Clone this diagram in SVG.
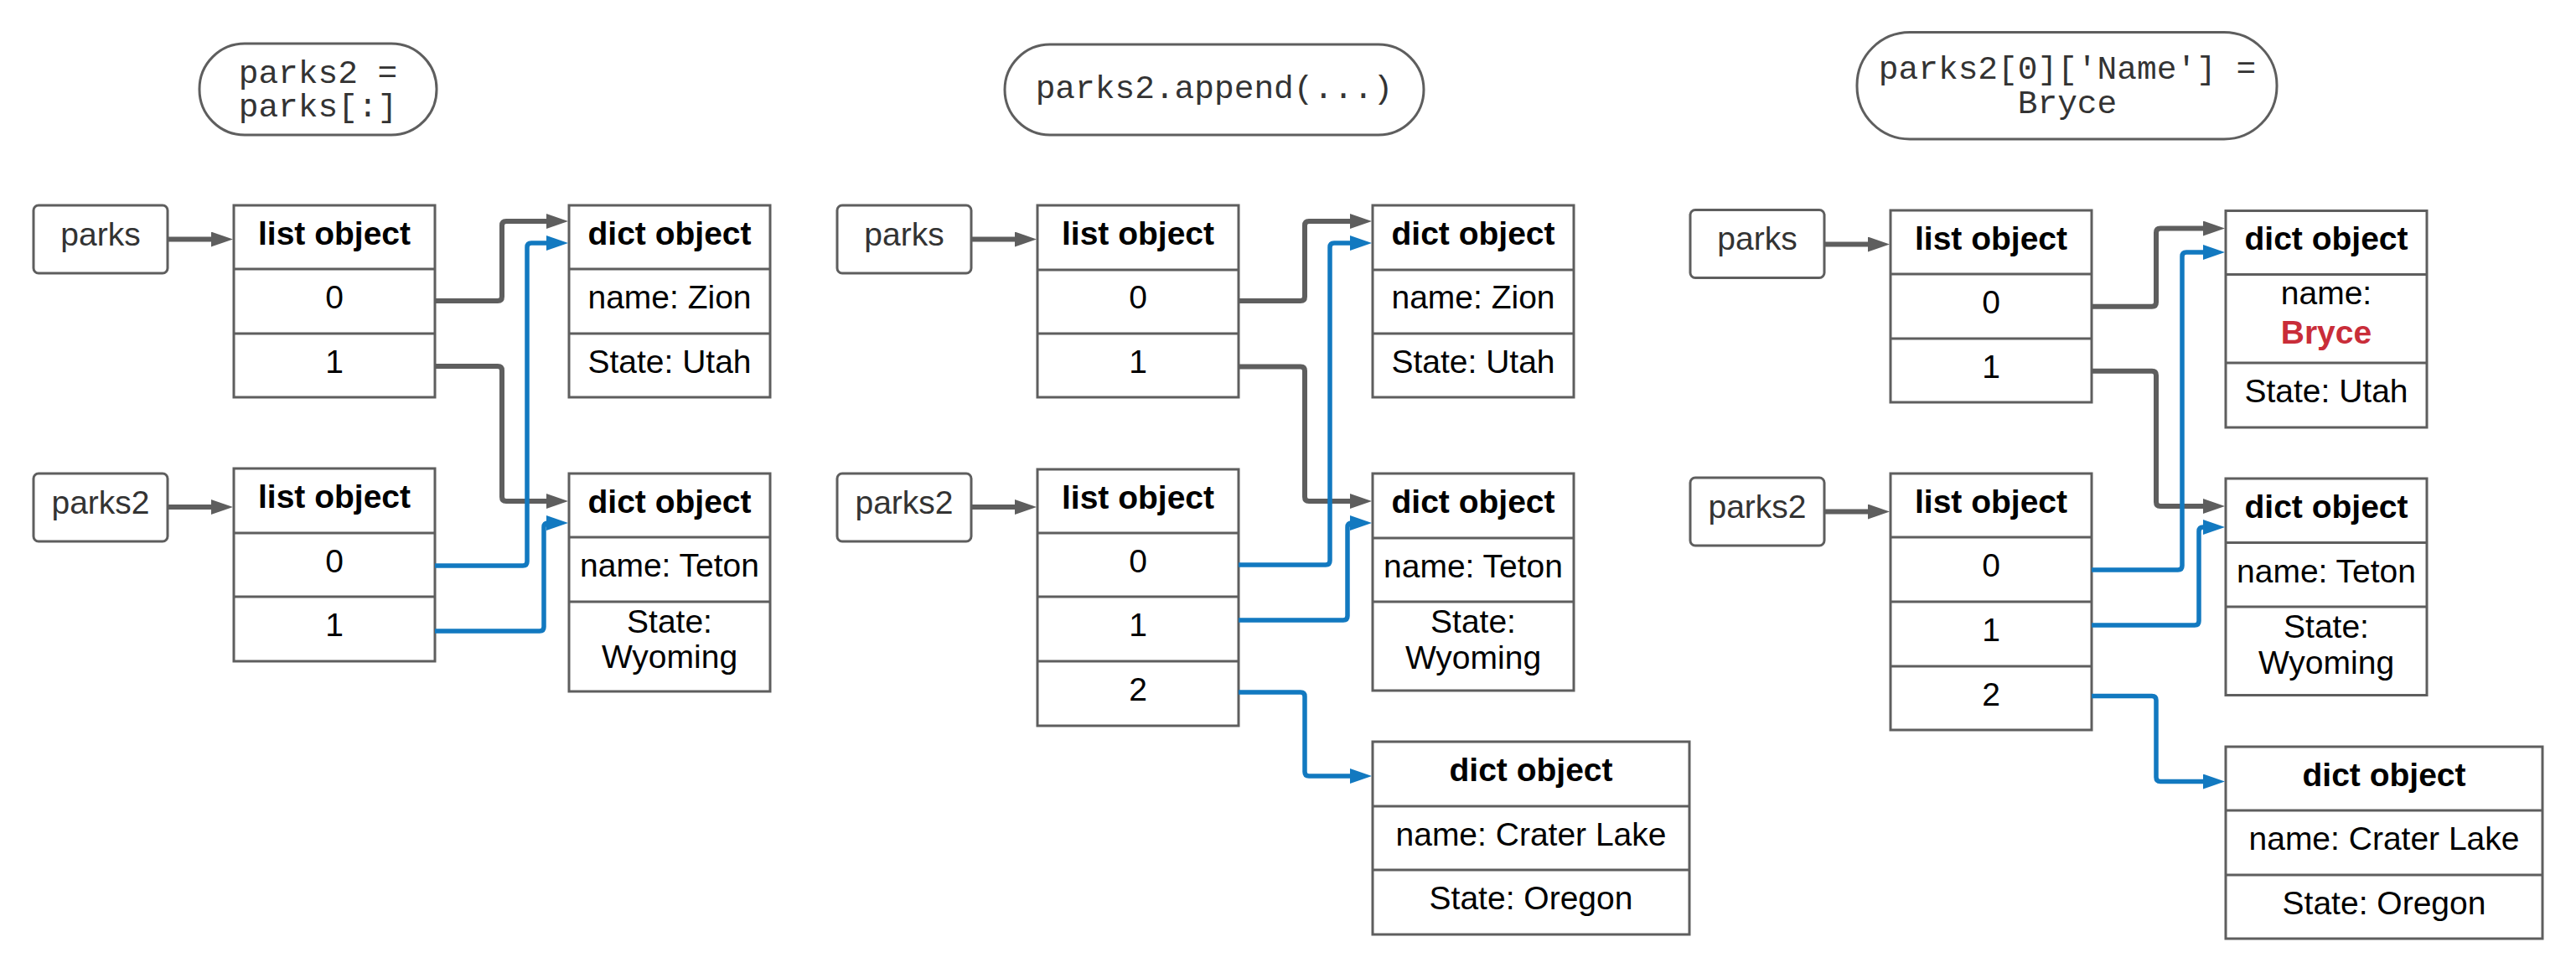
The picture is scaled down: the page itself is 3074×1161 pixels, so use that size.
<svg xmlns="http://www.w3.org/2000/svg" width="3074" height="1161" viewBox="0 0 3074 1161">
<style>
.box{fill:#fff;stroke:#5e5e5e;stroke-width:3}
.div{stroke:#5e5e5e;stroke-width:3}
.var{fill:#fff;stroke:#5e5e5e;stroke-width:3}
.pill{fill:#fff;stroke:#5e5e5e;stroke-width:3}
.t{font-family:"Liberation Sans",Arial,sans-serif;font-size:39px;fill:#000;text-anchor:middle}
.b{font-weight:bold}
.vt{fill:#333}
.red{fill:#c92d39;font-weight:bold}
.code{font-family:"Liberation Mono","Courier New",monospace;font-size:39.5px;fill:#333;text-anchor:middle}
.g{fill:none;stroke:#5e5e5e;stroke-width:6;marker-end:url(#ag)}
.bl{fill:none;stroke:#1279c0;stroke-width:5.5;marker-end:url(#ab)}
</style>
<defs>
<marker id="ag" viewBox="0 0 26 18" markerWidth="26" markerHeight="18" refX="2" refY="9" orient="auto" markerUnits="userSpaceOnUse"><path d="M0,0 L26,9 L0,18 Z" fill="#5e5e5e"/></marker>
<marker id="ab" viewBox="0 0 26 18" markerWidth="26" markerHeight="18" refX="2" refY="9" orient="auto" markerUnits="userSpaceOnUse"><path d="M0,0 L26,9 L0,18 Z" fill="#1279c0"/></marker>
</defs>
<rect width="3074" height="1161" fill="#fff"/>

<!-- Panel 1 -->
<g id="p1-code"><rect class="pill" x="238" y="52" width="283" height="109" rx="54"/><text class="code" x="379.5" y="99">parks2 =</text><text class="code" x="379.5" y="139">parks[:]</text></g>
<g id="p1-parks"><rect class="var" x="40" y="245" width="160" height="81" rx="6"/><text class="t vt" x="120" y="293">parks</text></g>
<g id="p1-parks2"><rect class="var" x="40" y="565" width="160" height="81" rx="6"/><text class="t vt" x="120" y="612.5">parks2</text></g>
<g id="p1-list1"><rect class="box" x="279" y="245" width="240" height="229"/><line class="div" x1="279" y1="321" x2="519" y2="321"/><line class="div" x1="279" y1="398" x2="519" y2="398"/>
<text class="t b" x="399" y="291.5">list object</text><text class="t" x="399" y="368">0</text><text class="t" x="399" y="444.5">1</text></g>
<g id="p1-dict1"><rect class="box" x="679" y="245" width="240" height="229"/><line class="div" x1="679" y1="321" x2="919" y2="321"/><line class="div" x1="679" y1="398" x2="919" y2="398"/>
<text class="t b" x="799" y="291.5">dict object</text><text class="t" x="799" y="368">name: Zion</text><text class="t" x="799" y="444.5">State: Utah</text></g>
<g id="p1-list2"><rect class="box" x="279" y="559" width="240" height="230"/><line class="div" x1="279" y1="636" x2="519" y2="636"/><line class="div" x1="279" y1="712" x2="519" y2="712"/>
<text class="t b" x="399" y="606">list object</text><text class="t" x="399" y="682.5">0</text><text class="t" x="399" y="759">1</text></g>
<g id="p1-dict2"><rect class="box" x="679" y="565" width="240" height="260"/><line class="div" x1="679" y1="641" x2="919" y2="641"/><line class="div" x1="679" y1="718" x2="919" y2="718"/>
<text class="t b" x="799" y="611.5">dict object</text><text class="t" x="799" y="688">name: Teton</text><text class="t" x="799" y="755">State:</text><text class="t" x="799" y="797">Wyoming</text></g>

<!-- Panel 2 -->
<g id="p2-code"><rect class="pill" x="1199" y="53" width="500" height="108" rx="54"/><text class="code" x="1449" y="117">parks2.append(...)</text></g>
<g id="p2-parks"><rect class="var" x="999" y="245" width="160" height="81" rx="6"/><text class="t vt" x="1079" y="293">parks</text></g>
<g id="p2-parks2"><rect class="var" x="999" y="565" width="160" height="81" rx="6"/><text class="t vt" x="1079" y="612.5">parks2</text></g>
<g id="p2-list1"><rect class="box" x="1238" y="245" width="240" height="229"/><line class="div" x1="1238" y1="322" x2="1478" y2="322"/><line class="div" x1="1238" y1="398" x2="1478" y2="398"/>
<text class="t b" x="1358" y="291.5">list object</text><text class="t" x="1358" y="368">0</text><text class="t" x="1358" y="444.5">1</text></g>
<g id="p2-dict1"><rect class="box" x="1638" y="245" width="240" height="229"/><line class="div" x1="1638" y1="322" x2="1878" y2="322"/><line class="div" x1="1638" y1="398" x2="1878" y2="398"/>
<text class="t b" x="1758" y="291.5">dict object</text><text class="t" x="1758" y="368">name: Zion</text><text class="t" x="1758" y="444.5">State: Utah</text></g>
<g id="p2-list2"><rect class="box" x="1238" y="560" width="240" height="306"/><line class="div" x1="1238" y1="636" x2="1478" y2="636"/><line class="div" x1="1238" y1="712" x2="1478" y2="712"/><line class="div" x1="1238" y1="789" x2="1478" y2="789"/>
<text class="t b" x="1358" y="606.5">list object</text><text class="t" x="1358" y="682.5">0</text><text class="t" x="1358" y="759">1</text><text class="t" x="1358" y="836">2</text></g>
<g id="p2-dict2"><rect class="box" x="1638" y="565" width="240" height="259"/><line class="div" x1="1638" y1="642" x2="1878" y2="642"/><line class="div" x1="1638" y1="718" x2="1878" y2="718"/>
<text class="t b" x="1758" y="612">dict object</text><text class="t" x="1758" y="688.5">name: Teton</text><text class="t" x="1758" y="755">State:</text><text class="t" x="1758" y="798">Wyoming</text></g>
<g id="p2-dict3"><rect class="box" x="1638" y="885" width="378" height="230"/><line class="div" x1="1638" y1="962" x2="2016" y2="962"/><line class="div" x1="1638" y1="1038" x2="2016" y2="1038"/>
<text class="t b" x="1827" y="932">dict object</text><text class="t" x="1827" y="1008.5">name: Crater Lake</text><text class="t" x="1827" y="1085">State: Oregon</text></g>

<!-- Panel 3 -->
<g id="p3-code"><rect class="pill" x="2216" y="38.5" width="501" height="127.5" rx="63"/><text class="code" x="2467" y="94">parks2[0]['Name'] =</text><text class="code" x="2467" y="134.5">Bryce</text></g>
<g id="p3-parks"><rect class="var" x="2017" y="250.5" width="160" height="81" rx="6"/><text class="t vt" x="2097" y="298">parks</text></g>
<g id="p3-parks2"><rect class="var" x="2017" y="570" width="160" height="81" rx="6"/><text class="t vt" x="2097" y="617.5">parks2</text></g>
<g id="p3-list1"><rect class="box" x="2256" y="251" width="240" height="229"/><line class="div" x1="2256" y1="327" x2="2496" y2="327"/><line class="div" x1="2256" y1="404" x2="2496" y2="404"/>
<text class="t b" x="2376" y="297.5">list object</text><text class="t" x="2376" y="374">0</text><text class="t" x="2376" y="450.5">1</text></g>
<g id="p3-dict1"><rect class="box" x="2656" y="251.5" width="240" height="258.5"/><line class="div" x1="2656" y1="327.5" x2="2896" y2="327.5"/><line class="div" x1="2656" y1="433" x2="2896" y2="433"/>
<text class="t b" x="2776" y="297.5">dict object</text><text class="t" x="2776" y="363.3">name:</text><text class="t red" x="2776" y="410">Bryce</text><text class="t" x="2776" y="479.5">State: Utah</text></g>
<g id="p3-list2"><rect class="box" x="2256" y="565" width="240" height="306"/><line class="div" x1="2256" y1="641" x2="2496" y2="641"/><line class="div" x1="2256" y1="718" x2="2496" y2="718"/><line class="div" x1="2256" y1="795" x2="2496" y2="795"/>
<text class="t b" x="2376" y="611.5">list object</text><text class="t" x="2376" y="688">0</text><text class="t" x="2376" y="765">1</text><text class="t" x="2376" y="841.5">2</text></g>
<g id="p3-dict2"><rect class="box" x="2656" y="571" width="240" height="258.5"/><line class="div" x1="2656" y1="647.5" x2="2896" y2="647.5"/><line class="div" x1="2656" y1="724" x2="2896" y2="724"/>
<text class="t b" x="2776" y="617.5">dict object</text><text class="t" x="2776" y="694.5">name: Teton</text><text class="t" x="2776" y="761">State:</text><text class="t" x="2776" y="804">Wyoming</text></g>
<g id="p3-dict3"><rect class="box" x="2656" y="891" width="378" height="229"/><line class="div" x1="2656" y1="967" x2="3034" y2="967"/><line class="div" x1="2656" y1="1044" x2="3034" y2="1044"/>
<text class="t b" x="2845" y="937.5">dict object</text><text class="t" x="2845" y="1014">name: Crater Lake</text><text class="t" x="2845" y="1090.5">State: Oregon</text></g>

<g id="connectors">
<!-- panel 1 -->
<path class="g" d="M200,285.5 H254"/>
<path class="g" d="M200,605 H254"/>
<path class="g" d="M519,359 H594 Q599,359 599,354 V269 Q599,264 604,264 H654"/>
<path class="g" d="M519,437 H594 Q599,437 599,442 V593 Q599,598 604,598 H654"/>
<path class="bl" d="M519,675 H624 Q629,675 629,670 V295 Q629,290 634,290 H654"/>
<path class="bl" d="M519,753 H644 Q649,753 649,748 V629 Q649,624 654,624"/>
<!-- panel 2 -->
<path class="g" d="M1159,285.5 H1213"/>
<path class="g" d="M1159,605 H1213"/>
<path class="g" d="M1478,359 H1552 Q1557,359 1557,354 V269 Q1557,264 1562,264 H1613"/>
<path class="g" d="M1478,437.5 H1552 Q1557,437.5 1557,442.5 V593 Q1557,598 1562,598 H1613"/>
<path class="bl" d="M1478,674 H1582 Q1587,674 1587,669 V295 Q1587,290 1592,290 H1613"/>
<path class="bl" d="M1478,740 H1603 Q1608,740 1608,735 V629 Q1608,624 1613,624"/>
<path class="bl" d="M1478,826 H1552 Q1557,826 1557,831 V921 Q1557,926 1562,926 H1613"/>
<!-- panel 3 -->
<path class="g" d="M2177,291.5 H2231"/>
<path class="g" d="M2177,610.5 H2231"/>
<path class="g" d="M2496,365.7 H2568 Q2573,365.7 2573,360.7 V277.5 Q2573,272.5 2578,272.5 H2631"/>
<path class="g" d="M2496,442.7 H2568 Q2573,442.7 2573,447.7 V599 Q2573,604 2578,604 H2631"/>
<path class="bl" d="M2496,680 H2599 Q2604,680 2604,675 V306 Q2604,301 2609,301 H2631"/>
<path class="bl" d="M2496,746 H2619 Q2624,746 2624,741 V634 Q2624,629 2629,629 H2631"/>
<path class="bl" d="M2496,830.5 H2568 Q2573,830.5 2573,835.5 V927.5 Q2573,932.5 2578,932.5 H2631"/>
</g>
</svg>
